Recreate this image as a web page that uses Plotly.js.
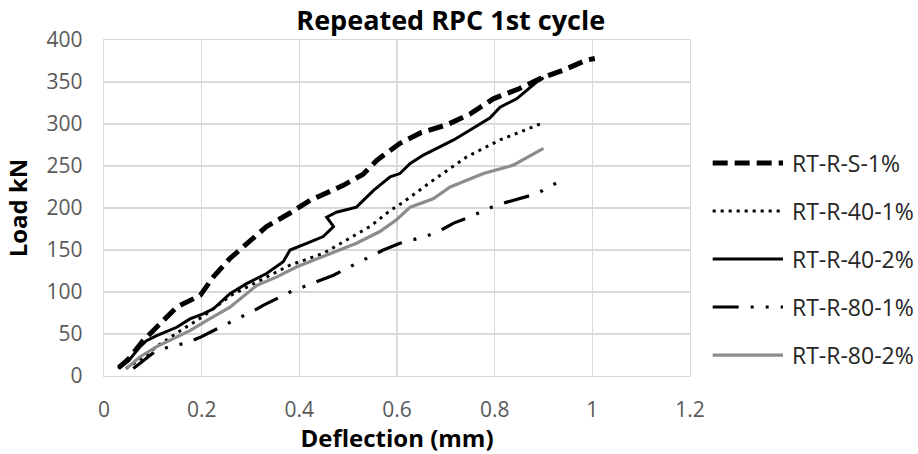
<!DOCTYPE html>
<html>
<head>
<meta charset="utf-8">
<script src="https://cdn.plot.ly/plotly-3.0.1.min.js"></script>
<style>html,body{margin:0;padding:0;background:#fff;}#chart{width:918px;height:454px;}</style>
</head>
<body>
<div id="chart"></div>
<script>
// ---- data ----
const seriesNames = ["RT-R-S-1%", "RT-R-40-1%", "RT-R-40-2%", "RT-R-80-1%", "RT-R-80-2%"];

const s1_x = [0.03, 0.05, 0.08, 0.108, 0.149, 0.197, 0.224, 0.258, 0.292, 0.333, 0.381, 0.422, 0.49, 0.53, 0.559, 0.606, 0.65, 0.702, 0.75, 0.797, 0.85, 0.893, 0.94, 0.988, 1.005];
const s1_y = [10, 20, 42, 58, 82, 96, 118, 140, 158, 178, 194, 209, 227, 240, 257, 277, 290, 299, 312, 330, 342, 354, 364, 376, 378];

const r401_x = [0.045, 0.08, 0.11, 0.135, 0.162, 0.19, 0.21, 0.26, 0.3, 0.326, 0.381, 0.449, 0.504, 0.545, 0.586, 0.613, 0.674, 0.743, 0.811, 0.883, 0.893];
const r401_y = [9, 22, 36, 46, 56, 66, 74, 96, 108, 116, 132, 146, 164, 178, 197, 207, 233, 261, 281, 297, 300];

const r402_x = [0.029, 0.05, 0.074, 0.087, 0.108, 0.149, 0.176, 0.203, 0.224, 0.258, 0.292, 0.333, 0.367, 0.381, 0.415, 0.449, 0.47, 0.456, 0.476, 0.517, 0.531, 0.552, 0.586, 0.606, 0.627, 0.654, 0.716, 0.79, 0.811, 0.845, 0.886, 0.9];
const r402_y = [9, 18, 35, 42, 48, 58, 68, 74, 80, 98, 110, 122, 136, 150, 158, 166, 178, 189, 195, 201, 209, 221, 237, 241, 253, 263, 281, 307, 320, 330, 350, 355];

const r801_x = [0.06, 0.104, 0.135, 0.166, 0.197, 0.244, 0.272, 0.302, 0.326, 0.381, 0.408, 0.436, 0.47, 0.517, 0.545, 0.572, 0.606, 0.657, 0.685, 0.716, 0.743, 0.794, 0.825, 0.886, 0.93];
const r801_y = [9, 29, 35, 39, 46, 60, 68, 76, 84, 100, 106, 112, 120, 134, 142, 150, 158, 166, 172, 182, 188, 201, 207, 217, 231];

const r802_x = [0.046, 0.074, 0.108, 0.142, 0.176, 0.21, 0.258, 0.313, 0.354, 0.395, 0.449, 0.517, 0.565, 0.599, 0.627, 0.674, 0.709, 0.777, 0.838, 0.9];
const r802_y = [9, 23, 35, 45, 54, 66, 82, 108, 118, 130, 142, 158, 172, 186, 201, 211, 225, 241, 251, 271];

const xTicks = [0, 0.2, 0.4, 0.6, 0.8, 1, 1.2];
const xTickText = ["0", "0.2", "0.4", "0.6", "0.8", "1", "1.2"];
const yTicks = [0, 50, 100, 150, 200, 250, 300, 350, 400];

// ---- styles ----
const styles = [
  {color: "#000000", width: 5, dash: "15px,7px"},
  {color: "#000000", width: 3, dash: "3px,5px"},
  {color: "#000000", width: 3, dash: "solid"},
  {color: "#000000", width: 3.2, dash: "26px,12px,3px,12px,3px,12px"},
  {color: "#8c8c8c", width: 3.2, dash: "solid"}
];
const xs = [s1_x, r401_x, r402_x, r801_x, r802_x];
const ys = [s1_y, r401_y, r402_y, r801_y, r802_y];

const FONT = "'Open Sans', 'Noto Sans', sans-serif";

const traces = seriesNames.map((n, i) => ({
  type: "scatter", mode: "lines", name: n, x: xs[i], y: ys[i],
  line: {color: styles[i].color, width: styles[i].width, dash: styles[i].dash},
  showlegend: false, hoverinfo: "skip"
}));

// legend drawn as paper-referenced keys
const shapes = [], annotations = [];
const legTop = 0.634, legStep = 0.1429;
seriesNames.forEach((n, i) => {
  const yy = legTop - i * legStep;
  shapes.push({type: "line", xref: "paper", yref: "paper", x0: 1.0387, x1: 1.1587, y0: yy, y1: yy,
    line: {color: styles[i].color, width: styles[i].width, dash: styles[i].dash}});
  annotations.push({xref: "paper", yref: "paper", x: 1.1706, y: yy, xanchor: "left", yanchor: "middle",
    text: n, showarrow: false, font: {family: FONT, size: 23, color: "#262626"}});
});

const layout = {
  width: 918, height: 454,
  margin: {l: 104, r: 228, t: 40, b: 78, pad: 0},
  paper_bgcolor: "#ffffff", plot_bgcolor: "#ffffff",
  title: {text: "<b>Repeated RPC 1st cycle</b>", font: {family: FONT, size: 27, color: "#000000"},
          x: 0.491, xref: "container", xanchor: "center", y: 0.955, yref: "container", yanchor: "middle"},
  xaxis: {
    range: [0, 1.2], tickvals: xTicks, ticktext: xTickText, ticks: "", ticklabelstandoff: 14,
    showgrid: true, gridcolor: "#d9d9d9", gridwidth: 1.3, zeroline: false,
    showline: true, linecolor: "#d9d9d9", linewidth: 1.3, mirror: true,
    tickfont: {family: FONT, size: 21, color: "#595959"},
    title: {text: "<b>Deflection (mm)</b>", font: {family: FONT, size: 24, color: "#000000"}, standoff: 4}
  },
  yaxis: {
    range: [0, 400], tickvals: yTicks, ticks: "", ticklabelstandoff: 16,
    showgrid: true, gridcolor: "#d9d9d9", gridwidth: 1.3, zeroline: false,
    showline: true, linecolor: "#d9d9d9", linewidth: 1.3, mirror: true,
    tickfont: {family: FONT, size: 21, color: "#595959"},
    title: {text: "<b>Load kN</b>", font: {family: FONT, size: 24, color: "#000000"}, standoff: 12}
  },
  shapes: shapes, annotations: annotations, showlegend: false
};

Plotly.newPlot("chart", traces, layout, {staticPlot: true, displayModeBar: false});
</script>
</body>
</html>
